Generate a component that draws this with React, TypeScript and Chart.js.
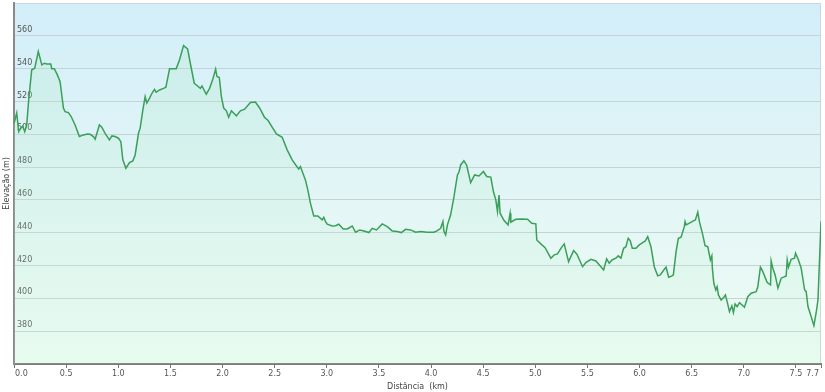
import React, { useEffect, useRef } from "react";
import { Chart, registerables } from "chart.js";
Chart.register(...registerables);

const distanceKm = [
  0.0, 0.026, 0.045, 0.064, 0.084, 0.103, 0.122, 0.141, 0.17, 0.199, 0.233, 0.267, 0.291, 0.314, 0.353, 0.362,
  0.387, 0.416, 0.442, 0.474, 0.49, 0.522, 0.548, 0.586, 0.627, 0.666, 0.704, 0.73, 0.762, 0.778, 0.819, 0.842,
  0.874, 0.915, 0.939, 0.97, 1.002, 1.025, 1.044, 1.073, 1.108, 1.14, 1.162, 1.194, 1.21, 1.236, 1.258, 1.274,
  1.3, 1.323, 1.348, 1.364, 1.396, 1.434, 1.457, 1.492, 1.556, 1.588, 1.626, 1.665, 1.697, 1.729, 1.755, 1.787,
  1.803, 1.844, 1.876, 1.909, 1.934, 1.947, 1.969, 1.989, 2.011, 2.037, 2.059, 2.085, 2.133, 2.171, 2.212, 2.267,
  2.315, 2.356, 2.402, 2.437, 2.476, 2.517, 2.572, 2.62, 2.668, 2.709, 2.731, 2.747, 2.795, 2.818, 2.843, 2.875,
  2.914, 2.956, 2.971, 2.988, 3.004, 3.052, 3.084, 3.115, 3.158, 3.196, 3.244, 3.276, 3.317, 3.355, 3.404, 3.436,
  3.477, 3.532, 3.58, 3.628, 3.676, 3.715, 3.756, 3.804, 3.852, 3.9, 3.964, 4.028, 4.061, 4.092, 4.114, 4.124,
  4.14, 4.157, 4.188, 4.22, 4.253, 4.268, 4.284, 4.315, 4.341, 4.38, 4.418, 4.46, 4.502, 4.534, 4.573, 4.598,
  4.621, 4.637, 4.652, 4.662, 4.7, 4.739, 4.758, 4.765, 4.813, 4.861, 4.925, 4.966, 5.005, 5.014, 5.053, 5.094,
  5.149, 5.181, 5.213, 5.245, 5.277, 5.319, 5.367, 5.399, 5.453, 5.485, 5.533, 5.581, 5.629, 5.655, 5.684, 5.709,
  5.735, 5.773, 5.795, 5.821, 5.847, 5.869, 5.891, 5.91, 5.93, 5.965, 5.997, 6.03, 6.055, 6.078, 6.109, 6.141,
  6.174, 6.199, 6.232, 6.254, 6.279, 6.311, 6.324, 6.35, 6.372, 6.398, 6.429, 6.436, 6.446, 6.487, 6.52, 6.535,
  6.558, 6.574, 6.606, 6.628, 6.654, 6.679, 6.693, 6.698, 6.712, 6.731, 6.744, 6.756, 6.782, 6.808, 6.823, 6.84,
  6.862, 6.885, 6.9, 6.916, 6.936, 6.958, 6.991, 7.006, 7.038, 7.07, 7.118, 7.134, 7.159, 7.182, 7.224, 7.256,
  7.262, 7.278, 7.3, 7.327, 7.358, 7.406, 7.416, 7.428, 7.454, 7.486, 7.496, 7.524, 7.55, 7.583, 7.598, 7.615,
  7.646, 7.672, 7.695, 7.711, 7.74,
];

const elevationM = [
  506.5, 513.0, 501.6, 503.7, 505.0, 501.6, 505.7, 521.0, 539.3, 540.3, 550.4, 542.3, 543.3, 542.8, 542.8, 540.0,
  540.0, 536.2, 532.0, 516.0, 513.8, 513.2, 510.8, 505.7, 498.6, 499.6, 500.2, 500.0, 498.6, 497.0, 505.7, 504.3,
  500.6, 496.6, 499.0, 498.6, 497.6, 495.5, 484.4, 479.3, 482.7, 483.8, 487.4, 500.6, 503.7, 514.9, 523.0, 519.0,
  522.0, 525.0, 527.4, 525.6, 527.0, 528.0, 528.7, 540.0, 540.0, 545.4, 554.0, 552.0, 541.3, 531.1, 529.7, 528.0,
  529.5, 524.4, 528.0, 534.0, 539.7, 535.2, 534.6, 523.0, 516.0, 514.3, 510.4, 514.3, 511.2, 514.3, 515.3, 519.4,
  519.6, 516.0, 510.4, 508.4, 504.3, 500.2, 498.2, 490.5, 484.4, 480.7, 478.9, 480.3, 472.2, 466.1, 458.0, 450.2,
  450.2, 447.8, 449.4, 446.8, 445.2, 444.1, 444.3, 445.2, 442.3, 442.3, 444.1, 440.3, 441.7, 441.1, 440.1, 442.7,
  441.7, 445.4, 443.7, 441.1, 440.7, 440.1, 442.1, 441.7, 440.3, 440.7, 440.3, 440.3, 441.3, 442.7, 446.8, 440.7,
  438.7, 444.8, 450.9, 462.0, 475.2, 477.0, 481.3, 483.8, 481.3, 470.5, 475.2, 474.6, 477.3, 474.3, 473.9, 465.1,
  460.0, 452.9, 463.0, 451.9, 447.4, 444.8, 451.9, 446.4, 448.2, 448.4, 448.2, 445.8, 445.4, 435.6, 433.2, 430.9,
  424.5, 426.5, 427.1, 430.5, 433.2, 422.4, 429.1, 426.9, 419.3, 421.8, 423.8, 422.8, 419.3, 417.3, 424.0, 421.4,
  423.4, 424.5, 425.9, 424.5, 430.5, 431.5, 436.6, 435.2, 430.5, 430.5, 432.6, 434.0, 435.0, 437.6, 431.5, 419.3,
  413.7, 414.3, 417.3, 419.0, 412.9, 413.7, 414.3, 428.5, 436.6, 437.3, 443.7, 446.8, 444.8, 446.2, 447.4, 447.8,
  452.5, 446.8, 438.7, 432.1, 431.5, 423.4, 425.9, 418.4, 409.2, 405.1, 407.1, 402.1, 399.0, 400.7, 402.1, 398.0,
  391.9, 395.4, 391.3, 396.6, 395.0, 397.4, 395.5, 394.6, 401.0, 403.1, 404.1, 407.1, 419.0, 416.3, 409.6, 408.2,
  422.8, 418.4, 414.3, 406.2, 412.3, 413.7, 423.4, 419.0, 423.8, 424.5, 427.5, 423.4, 418.4, 405.1, 404.1, 395.0,
  388.8, 383.4, 391.9, 399.0, 446.8,
];

const xTickValues = [0, 0.5, 1.0, 1.5, 2.0, 2.5, 3.0, 3.5, 4.0, 4.5, 5.0, 5.5, 6.0, 6.5, 7.0, 7.5, 7.74];
const yTickValues = [360, 380, 400, 420, 440, 460, 480, 500, 520, 540, 560, 580];
const yLabelValues = [380, 400, 420, 440, 460, 480, 500, 520, 540, 560];

const xTitle = "Distância  (km)";
const yTitle = "Elevação (m)";

const fontFamily = "'DejaVu Sans', Verdana, sans-serif";

export default function App() {
  const ref = useRef<HTMLCanvasElement | null>(null);

  useEffect(() => {
    const canvas = ref.current;
    if (!canvas) return;

    const xMin = xTickValues[0];
    const xMax = xTickValues[xTickValues.length - 1];

    const bgPlugin = {
      id: "plotBg",
      beforeDraw(chart: any) {
        const { ctx, chartArea: a } = chart;
        if (!a) return;
        const g = ctx.createLinearGradient(0, a.top, 0, a.bottom);
        g.addColorStop(0, "#d2eef9");
        g.addColorStop(0.5, "#e2f5f6");
        g.addColorStop(1, "#eefcf3");
        ctx.save();
        ctx.fillStyle = g;
        ctx.fillRect(a.left, a.top, a.right - a.left, a.bottom - a.top);
        ctx.strokeStyle = "#cfd5d8";
        ctx.lineWidth = 1;
        ctx.strokeRect(a.left + 0.5, a.top + 0.5, a.right - a.left - 1, a.bottom - a.top);
        ctx.restore();
      },
      afterDraw(chart: any) {
        // edge labels of the x axis, nudged inward as in the reference
        const { ctx, chartArea: a } = chart;
        const xs = chart.scales.x;
        ctx.save();
        ctx.fillStyle = "#555";
        ctx.font = `8px ${fontFamily}`;
        ctx.textBaseline = "top";
        ctx.textAlign = "left";
        ctx.fillText(xMin.toFixed(1), xs.getPixelForValue(xMin) + 1, a.bottom + 6);
        ctx.textAlign = "right";
        ctx.fillText(xMax.toFixed(1), xs.getPixelForValue(xMax) - 2, a.bottom + 6);
        ctx.restore();
      },
    };

    const chart = new Chart(canvas, {
      type: "line",
      data: {
        datasets: [
          {
            data: distanceKm.map((d, i) => ({ x: d, y: elevationM[i] })),
            borderColor: "#3a9f58",
            borderWidth: 1.5,
            pointRadius: 0,
            tension: 0,
            fill: "start",
            backgroundColor: (c: any) => {
              const a = c.chart.chartArea;
              if (!a) return "rgba(160,230,180,0.2)";
              const g = c.chart.ctx.createLinearGradient(0, a.top, 0, a.bottom);
              g.addColorStop(0, "rgba(160,228,185,0.22)");
              g.addColorStop(1, "rgba(195,245,215,0.15)");
              return g;
            },
          },
        ],
      },
      options: {
        animation: false,
        responsive: true,
        maintainAspectRatio: false,
        layout: { padding: { top: 3, right: 4, left: 0, bottom: 0 } },
        plugins: {
          legend: { display: false },
          tooltip: { enabled: false },
        },
        scales: {
          x: {
            type: "linear",
            min: xMin,
            max: xMax,
            afterBuildTicks: (s: any) => {
              s.ticks = xTickValues.map((v) => ({ value: v }));
            },
            afterFit: (s: any) => {
              s.height = 28;
              s.paddingLeft = 0;
              s.paddingRight = 0;
            },
            ticks: {
              autoSkip: false,
              maxRotation: 0,
              padding: 1,
              color: "#555",
              font: { family: fontFamily, size: 8 },
              callback: (v: any) =>
                Number(v) === xMin || Number(v) === xMax ? "" : Number(v).toFixed(1),
            },
            grid: {
              drawOnChartArea: false,
              drawTicks: true,
              tickLength: 4,
              tickColor: "#777",
            },
            border: { display: true, color: "#7a7a7a", width: 2 },
            title: {
              display: true,
              text: xTitle,
              color: "#444",
              font: { family: fontFamily, size: 8 },
              padding: { top: 3, bottom: 0 },
            },
          },
          y: {
            type: "linear",
            min: 360,
            max: 580,
            afterBuildTicks: (s: any) => {
              s.ticks = yTickValues.map((v) => ({ value: v }));
            },
            afterFit: (s: any) => {
              s.width = 14;
              s.paddingTop = 0;
              s.paddingBottom = 0;
            },
            ticks: {
              mirror: true,
              padding: 3,
              labelOffset: -6,
              color: "#555",
              font: { family: fontFamily, size: 8 },
              callback: (v: any) => (yLabelValues.includes(Number(v)) ? String(v) : ""),
            },
            grid: {
              drawTicks: false,
              tickLength: 0,
              color: (c: any) =>
                c.tick && yLabelValues.includes(c.tick.value) ? "#c6d3d6" : "rgba(0,0,0,0)",
              lineWidth: 1,
            },
            border: { display: true, color: "#8a8a8a", width: 2 },
            title: {
              display: true,
              text: yTitle,
              color: "#444",
              font: { family: fontFamily, size: 8 },
              padding: { top: 2, bottom: 0 },
            },
          },
        },
      },
      plugins: [bgPlugin],
    });

    return () => chart.destroy();
  }, []);

  return (
    <div style={{ position: "fixed", left: 0, top: 0, width: 825, height: 392, background: "#fff" }}>
      <canvas ref={ref} />
    </div>
  );
}
